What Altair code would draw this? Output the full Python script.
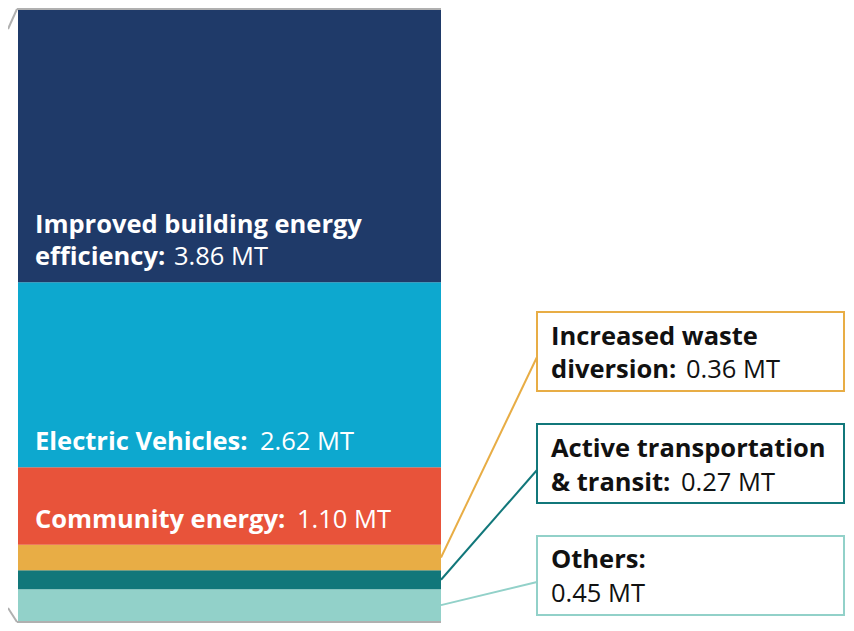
import altair as alt
import pandas as pd

# ---- data ----
categories = [
    "Improved building energy efficiency",
    "Electric Vehicles",
    "Community energy",
    "Increased waste diversion",
    "Active transportation & transit",
    "Others",
]
values = [3.86, 2.62, 1.10, 0.36, 0.27, 0.45]
colors = ["#1f3a69", "#0da8cf", "#e8533a", "#e8ad45", "#11777a", "#92d1c9"]
bold_labels = [
    ["Improved building energy", "efficiency:"],
    ["Electric Vehicles:"],
    ["Community energy:"],
    ["Increased waste", "diversion:"],
    ["Active transportation", "& transit:"],
    ["Others:"],
]
unit = "MT"

# ---- layout ----
FONT = "Open Sans"
FS = 25.5
W, H = 838, 615
BAR_X0, BAR_X1 = 10, 433
Y_BOT, Y_TOP = 613, 2
TOTAL = sum(values)
GRAY = "#b0b0b0"


def px_to_val(py):
    return (Y_BOT - py) / (Y_BOT - Y_TOP) * TOTAL


yscale = alt.Scale(domain=[0, TOTAL], range=[Y_BOT, Y_TOP], nice=False, zero=False)

# stacked segments (bottom-up = reverse order of list)
rows = []
cum = 0.0
for cat, val, col in reversed(list(zip(categories, values, colors))):
    rows.append({"cat": cat, "value": val, "color": col, "start": cum,
                 "end": cum + val, "mid": cum + val / 2})
    cum += val
seg = pd.DataFrame(rows)

bars = alt.Chart(seg).mark_rect().encode(
    x=alt.value(BAR_X0), x2=alt.value(BAR_X1),
    y=alt.Y("start:Q", scale=yscale, axis=None), y2="end:Q",
    color=alt.Color("color:N", scale=None, legend=None),
)

# labels inside the bar (first three categories)
inner_value_x = [166, 252, 289]
inner = []
for i in range(3):
    s = seg.loc[seg.cat == categories[i]].iloc[0]
    inner.append({"last": bold_labels[i][-1],
                  "first": bold_labels[i][0] if len(bold_labels[i]) > 1 else "",
                  "val": f"{values[i]:.2f} {unit}", "x": 27, "vx": inner_value_x[i],
                  "y": s["start"]})
inner = pd.DataFrame(inner)
in_base = alt.Chart(inner)
in_last = in_base.mark_text(align="left", baseline="alphabetic", font=FONT, fontSize=FS,
                            fontWeight="bold", color="white", dy=-17).encode(
    x=alt.X("x:Q", scale=None), y=alt.Y("y:Q", scale=yscale), text="last:N")
in_first = in_base.mark_text(align="left", baseline="alphabetic", font=FONT, fontSize=FS,
                             fontWeight="bold", color="white", dy=-49).encode(
    x=alt.X("x:Q", scale=None), y=alt.Y("y:Q", scale=yscale), text="first:N")
in_val = in_base.mark_text(align="left", baseline="alphabetic", font=FONT, fontSize=FS,
                           fontWeight="normal", color="white", dy=-17).encode(
    x=alt.X("vx:Q", scale=None), y=alt.Y("y:Q", scale=yscale), text="val:N")

# callout boxes (last three categories)
box_top = [304, 416, 528]
box_bot = [383, 495, 607]
box_anchor = [349, 462, 574]
line1_base = [337, 449, 560]
line2_base = [370, 483, 594]
box_value_x = [678, 673, 543]
box_value_line = [2, 2, 2]
BOX_X0, BOX_X1, TEXT_X = 529, 836, 543

brow, trow = [], []
for j, i in enumerate(range(3, 6)):
    s = seg.loc[seg.cat == categories[i]].iloc[0]
    brow.append({"cat": categories[i], "color": colors[i], "x0": BOX_X0, "x1": BOX_X1,
                 "bx": BAR_X1, "top": px_to_val(box_top[j]), "bot": px_to_val(box_bot[j]),
                 "mid": s["mid"], "anchor": px_to_val(box_anchor[j])})
    bases = [line1_base[j], line2_base[j]]
    for k, t in enumerate(bold_labels[i]):
        trow.append({"t": t, "x": TEXT_X, "y": px_to_val(bases[k]), "w": "bold"})
    trow.append({"t": f"{values[i]:.2f} {unit}", "x": box_value_x[j],
                 "y": px_to_val(bases[box_value_line[j] - 1]), "w": "normal"})
boxes = pd.DataFrame(brow)
btext = pd.DataFrame(trow)

box_rect = alt.Chart(boxes).mark_rect(fill="white", strokeWidth=2).encode(
    x=alt.X("x0:Q", scale=None), x2="x1:Q",
    y=alt.Y("top:Q", scale=yscale), y2="bot:Q",
    stroke=alt.Stroke("color:N", scale=None, legend=None),
)
connectors = alt.Chart(boxes).mark_rule(strokeWidth=2).encode(
    x=alt.X("bx:Q", scale=None), x2="x0:Q",
    y=alt.Y("mid:Q", scale=yscale), y2="anchor:Q",
    color=alt.Color("color:N", scale=None, legend=None),
)
bt_bold = alt.Chart(btext).transform_filter("datum.w == 'bold'").mark_text(
    align="left", baseline="alphabetic", font=FONT, fontSize=FS, fontWeight="bold",
    color="#111111").encode(
    x=alt.X("x:Q", scale=None), y=alt.Y("y:Q", scale=yscale), text="t:N")
bt_norm = alt.Chart(btext).transform_filter("datum.w == 'normal'").mark_text(
    align="left", baseline="alphabetic", font=FONT, fontSize=FS, fontWeight="normal",
    color="#111111").encode(
    x=alt.X("x:Q", scale=None), y=alt.Y("y:Q", scale=yscale), text="t:N")

# gray frame from the previous panel
frame_df = pd.DataFrame({"k": [0]})
fb = alt.Chart(frame_df)
top_line = fb.mark_rule(color=GRAY, strokeWidth=2).encode(
    x=alt.value(9), x2=alt.value(BAR_X1), y=alt.value(1))
bot_line = fb.mark_rule(color=GRAY, strokeWidth=2).encode(
    x=alt.value(9), x2=alt.value(BAR_X1), y=alt.value(614))
diag_top = fb.mark_rule(color=GRAY, strokeWidth=2).encode(
    x=alt.value(0), x2=alt.value(9), y=alt.value(21), y2=alt.value(1))
diag_bot = fb.mark_rule(color=GRAY, strokeWidth=2).encode(
    x=alt.value(0), x2=alt.value(9), y=alt.value(600), y2=alt.value(614))

chart = alt.layer(
    bars, top_line, bot_line, diag_top, diag_bot,
    connectors, box_rect, bt_bold, bt_norm,
    in_last, in_first, in_val,
).properties(
    width=W, height=H, padding=0, background="white",
    autosize=alt.AutoSizeParams(type="none"),
).configure_view(stroke=None)

chart.save("out.html", embed_options={"renderer": "svg", "actions": False})
